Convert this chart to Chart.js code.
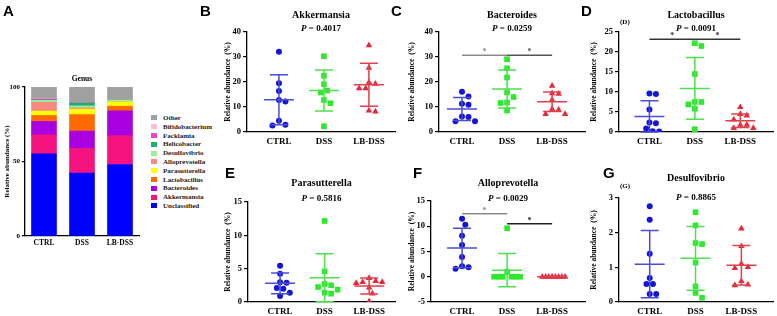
<!DOCTYPE html>
<html>
<head>
<meta charset="utf-8">
<script src="https://cdn.jsdelivr.net/npm/chart.js@4.4.0/dist/chart.umd.min.js"></script>
<style>
  body { margin: 0; background: #fff; }
  #fig { position: relative; width: 777px; height: 316px; overflow: hidden; background: #fff; }
  #fig canvas { position: absolute; }
  .tag { position: absolute; font: bold 15px 'Liberation Sans', Arial, sans-serif; line-height: 1; color: #000; }
  .note { position: absolute; font: bold 7px 'Liberation Serif', serif; line-height: 1; color: #000; }
  #legendA { position: absolute; left: 151px; top: 113.6px; }
  #legendA div { display: flex; align-items: center; height: 8.8px; font: bold 7px 'Liberation Serif', serif; color: #222; white-space: nowrap; }
  #legendA span { display: inline-block; width: 6px; height: 5px; margin-right: 6px; }
</style>
</head>
<body>
<div id="fig">
  <canvas id="chartA" width="150" height="316" style="left:0;top:0"></canvas>
  <canvas id="chartB" width="180" height="160" style="left:220px;top:0"></canvas>
  <canvas id="chartC" width="186" height="160" style="left:404px;top:0"></canvas>
  <canvas id="chartD" width="191" height="160" style="left:586px;top:0"></canvas>
  <canvas id="chartE" width="180" height="156" style="left:220px;top:160px"></canvas>
  <canvas id="chartF" width="186" height="156" style="left:404px;top:160px"></canvas>
  <canvas id="chartG" width="191" height="156" style="left:586px;top:160px"></canvas>
  <div id="legendA"></div>
  <div class="tag" style="left:3px;top:3px">A</div>
  <div class="tag" style="left:200px;top:3px">B</div>
  <div class="tag" style="left:391px;top:3px">C</div>
  <div class="tag" style="left:581px;top:3px">D</div>
  <div class="tag" style="left:225px;top:165px">E</div>
  <div class="tag" style="left:413px;top:165px">F</div>
  <div class="tag" style="left:603px;top:165px">G</div>
  <div class="note" style="left:620px;top:19px">(D)</div>
  <div class="note" style="left:620px;top:183px">(G)</div>
</div>
<script>
const serif = "'Liberation Serif', 'Times New Roman', serif";

const groups = ['CTRL', 'DSS', 'LB-DSS'];

// A: genus composition (%), stacked from the bottom
const genera = ['Unclassified', 'Akkermansia', 'Bacteroides', 'Lactobacillus', 'Parasutterella',
  'Alloprevotella', 'Desulfovibrio', 'Helicobacter', 'Facklamia', 'Bifidobacterium', 'Other'];
const genusColors = ['#0000ff', '#f5147f', '#a900e2', '#ff6a00', '#ffff00',
  '#f58a80', '#9cf09c', '#1fae6e', '#f542c8', '#ffbddc', '#a0a0a0'];
const ctrlGenus = [55.2, 12.8, 8.9, 4.0, 2.9, 6.0, 1.2, 0.5, 0.6, 0.4, 7.5];
const dssGenus = [42.2, 16.6, 11.6, 11.1, 3.6, 0.9, 1.3, 2.0, 0.1, 0.1, 10.5];
const lbGenus = [48.0, 19.3, 16.7, 3.1, 2.9, 0.2, 1.1, 0.1, 0.1, 0.1, 8.4];

// B: Akkermansia
const akkCtrl = [32.1, 19.5, 16.4, 12.8, 12.2, 4.5, 2.6, 2.9];
const akkDss = [30.3, 22.5, 19.1, 16.6, 15.8, 12.8, 11.5, 2.3];
const akkLb = [34.7, 25.7, 19.9, 19.3, 17.5, 17.5, 8.2, 8.6];
const akkMean = [12.9, 16.6, 18.9];
const akkSd = [10.0, 8.2, 8.6];

// C: Bacteroides
const bacCtrl = [16.1, 14.2, 11.3, 10.9, 6.2, 6.0, 4.3, 4.3];
const bacDss = [29.1, 25.5, 21.8, 15.8, 14.0, 11.8, 11.6, 8.6];
const bacLb = [18.5, 15.5, 15.3, 12.9, 9.2, 8.9, 7.2, 7.2];
const bacMean = [9.2, 17.2, 12.1];
const bacSd = [4.6, 7.6, 3.9];
const bacSig = [[0, 1, 30.7], [1, 2, 30.7]];

// D: Lactobacillus
const lacCtrl = [9.6, 9.5, 5.6, 2.4, 2.2, 0.9, 0.2, 0.1];
const lacDss = [22.2, 21.5, 14.5, 7.5, 7.5, 6.9, 5.8, 0.7];
const lacLb = [6.2, 4.5, 4.1, 3.1, 1.8, 1.8, 1.0, 1.0];
const lacMean = [3.9, 10.9, 2.8];
const lacSd = [3.9, 7.7, 1.7];
const lacSig = [[0, 1, 23.2], [1, 2, 23.2]];

// E: Parasutterella
const parCtrl = [5.45, 4.25, 2.95, 2.9, 2.1, 2.0, 1.4, 0.9];
const parDss = [12.15, 4.6, 2.7, 2.5, 2.25, 1.85, 1.4, 1.25];
const parLb = [3.6, 3.15, 3.0, 3.0, 2.85, 2.15, 1.25, 0.1];
const parMean = [2.8, 3.65, 2.4];
const parSd = [1.55, 3.6, 1.2];

// F: Alloprevotella
const allCtrl = [11.5, 10.3, 8.1, 6.3, 3.9, 2.1, 1.9, 1.6];
const allDss = [9.6, 1.0, 0, 0, 0, 0, 0, 0];
const allLb = [0, 0, 0, 0, 0, 0, 0, 0];
const allMean = [5.7, 1.3, 0];
const allSd = [3.9, 3.3, 0];
const allSig = [[0, 1, 12.5], [1, 2, 10.5]];

// G: Desulfovibrio
const desCtrl = [2.76, 2.37, 1.39, 0.69, 0.52, 0.52, 0.23, 0.23];
const desDss = [2.59, 2.21, 1.70, 1.67, 1.14, 0.45, 0.26, 0.12];
const desLb = [2.12, 1.61, 1.10, 1.01, 0.98, 0.60, 0.50, 0.48];
const desMean = [1.09, 1.26, 1.06];
const desSd = [0.97, 0.92, 0.57];

const pointColors = ['#1515d5', '#2de82d', '#e8283a'];
const barColors = ['#4b4bdc', '#4ee04e', '#e0404a'];
const pointStyles = ['circle', 'rect', 'triangle'];
const pointSizes = [3, 4, 3.8];

// spreads overlapping points sideways, then draws mean/SD bars, brackets and P
const scatterExtras = {
  id: 'scatterExtras',
  afterDatasetsUpdate(chart) {
    const gap = 6.5, maxOff = 13;
    chart.data.datasets.forEach((ds, i) => {
      const pts = chart.getDatasetMeta(i).data;
      const order = pts.map((p, k) => k).sort((a, b) => pts[a].y - pts[b].y);
      const placed = [];
      const offs = [];
      order.forEach(k => {
        const p = pts[k];
        let off = 0;
        for (let step = 0; step < 80; step++) {
          const cand = step === 0 ? 0 : (step % 2 ? 1 : -1) * Math.ceil(step / 2) * gap / 2;
          if (placed.every(q => Math.hypot(q.x - cand, q.y - p.y) >= gap - 0.01)) { off = cand; break; }
        }
        placed.push({ x: off, y: p.y });
        offs[k] = off;
      });
      const widest = Math.max(...offs.map(Math.abs));
      const squeeze = widest > maxOff ? maxOff / widest : 1;
      pts.forEach((p, k) => { p.x += offs[k] * squeeze; });
    });
  },
  afterDatasetsDraw(chart, args, opts) {
    const { ctx, chartArea } = chart;
    const x = chart.scales.x, y = chart.scales.y;
    ctx.save();
    ctx.lineWidth = 1.5;
    opts.mean.forEach((m, i) => {
      const cx = x.getPixelForValue(i);
      const top = y.getPixelForValue(m + opts.sd[i]);
      const bot = y.getPixelForValue(m - opts.sd[i]);
      const my = y.getPixelForValue(m);
      ctx.strokeStyle = barColors[i];
      ctx.beginPath();
      ctx.moveTo(cx, top); ctx.lineTo(cx, bot);
      ctx.moveTo(cx - 9, top); ctx.lineTo(cx + 9, top);
      ctx.moveTo(cx - 9, bot); ctx.lineTo(cx + 9, bot);
      ctx.moveTo(cx - 15, my); ctx.lineTo(cx + 15, my);
      ctx.stroke();
    });
    (opts.sig || []).forEach((s, k) => {
      const x1 = x.getPixelForValue(s[0]), x2 = x.getPixelForValue(s[1]);
      const sy = y.getPixelForValue(s[2]);
      ctx.strokeStyle = opts.sigColors[k];
      ctx.fillStyle = opts.sigColors[k];
      ctx.beginPath();
      ctx.moveTo(x1, sy); ctx.lineTo(x2, sy);
      ctx.stroke();
      ctx.font = 'bold 8px ' + serif;
      ctx.textAlign = 'center';
      ctx.textBaseline = 'middle';
      ctx.fillText('*', (x1 + x2) / 2, sy - 3);
    });
    // P value, italic P
    ctx.fillStyle = '#000';
    ctx.textBaseline = 'middle';
    ctx.textAlign = 'left';
    const rest = ' = ' + opts.p;
    ctx.font = 'italic bold 9px ' + serif;
    const wP = ctx.measureText('P').width;
    ctx.font = 'bold 9px ' + serif;
    const wR = ctx.measureText(rest).width;
    const cxp = (chartArea.left + chartArea.right) / 2 - (wP + wR) / 2;
    ctx.font = 'italic bold 9px ' + serif;
    ctx.fillText('P', cxp, opts.pY);
    ctx.font = 'bold 9px ' + serif;
    ctx.fillText(rest, cxp + wP, opts.pY);
    ctx.restore();
  }
};

const panels = [
  { id: 'chartB', title: 'Akkermansia', p: '0.4017', series: [akkCtrl, akkDss, akkLb], mean: akkMean, sd: akkSd,
    yr: [0, 40, 10], xr: [-0.71, 2.58], yw: 27, xh: 20, pad: { left: 0, right: 5, top: 0, bottom: 8 }, tp: [9, 11], pY: 29 },
  { id: 'chartC', title: 'Bacteroides', p: '0.0259', series: [bacCtrl, bacDss, bacLb], mean: bacMean, sd: bacSd,
    sig: bacSig, sigColors: ['#8a8a8a', '#555555'],
    yr: [0, 40, 10], xr: [-0.51, 2.73], yw: 35, xh: 20, pad: { left: 0, right: 5, top: 0, bottom: 8 }, tp: [9, 11], pY: 29 },
  { id: 'chartD', title: 'Lactobacillus', p: '0.0091', series: [lacCtrl, lacDss, lacLb], mean: lacMean, sd: lacSd,
    sig: lacSig, sigColors: ['#333333', '#333333'],
    yr: [0, 25, 5], xr: [-0.67, 2.72], yw: 33, xh: 20, pad: { left: 0, right: 2, top: 0, bottom: 8 }, tp: [9, 11], pY: 29 },
  { id: 'chartE', title: 'Parasutterella', p: '0.5816', series: [parCtrl, parDss, parLb], mean: parMean, sd: parSd,
    yr: [0, 15, 5], xr: [-0.72, 2.58], yw: 28, xh: 14, pad: { left: 0, right: 5, top: 0, bottom: 0 }, tp: [17, 13], pY: 39 },
  { id: 'chartF', title: 'Alloprevotella', p: '0.0029', series: [allCtrl, allDss, allLb], mean: allMean, sd: allSd,
    sig: allSig, sigColors: ['#8a8a8a', '#222222'],
    yr: [-5, 15, 5], xr: [-0.69, 2.73], yw: 27, xh: 14, pad: { left: 0, right: 5, top: 0, bottom: 0 }, tp: [17, 12], pY: 39 },
  { id: 'chartG', title: 'Desulfovibrio', p: '0.8865', series: [desCtrl, desDss, desLb], mean: desMean, sd: desSd,
    yr: [0, 3, 1], xr: [-0.67, 2.69], yw: 33, xh: 14, pad: { left: 0, right: 2, top: 0, bottom: 0 }, tp: [12, 14], pY: 38 }
];

const axisBorder = { display: true, color: '#000', width: 1.3 };

panels.forEach(pn => {
  new Chart(document.getElementById(pn.id), {
    type: 'scatter',
    data: {
      datasets: pn.series.map((vals, i) => ({
        label: groups[i],
        data: vals.map(v => ({ x: i, y: v })),
        pointStyle: pointStyles[i],
        pointRadius: pointSizes[i],
        backgroundColor: pointColors[i],
        borderColor: pointColors[i],
        borderWidth: 0
      }))
    },
    options: {
      responsive: false,
      animation: false,
      events: [],
      layout: { padding: pn.pad },
      plugins: {
        legend: { display: false },
        tooltip: { enabled: false },
        title: {
          display: true, text: pn.title, fullSize: false, color: '#000',
          font: { family: serif, size: 10, weight: 'bold' },
          padding: { top: pn.tp[0], bottom: pn.tp[1] }
        },
        scatterExtras: { mean: pn.mean, sd: pn.sd, sig: pn.sig, sigColors: pn.sigColors, p: pn.p, pY: pn.pY }
      },
      scales: {
        x: {
          type: 'linear', min: pn.xr[0], max: pn.xr[1],
          afterBuildTicks: s => { s.ticks = groups.map((g, i) => ({ value: i })); },
          afterFit: s => { s.height = pn.xh; },
          ticks: { callback: v => groups[v], color: '#000', autoSkip: false, maxRotation: 0, padding: 4,
            font: { family: serif, size: 9, weight: 'bold' } },
          grid: { drawOnChartArea: false, drawTicks: false },
          border: axisBorder
        },
        y: {
          min: pn.yr[0], max: pn.yr[1],
          afterFit: s => { s.width = pn.yw; },
          ticks: { stepSize: pn.yr[2], color: '#000', padding: 2, font: { family: serif, size: 8.5, weight: 'bold' } },
          grid: { drawOnChartArea: false, tickLength: 4, color: '#000', lineWidth: 1.2 },
          border: axisBorder,
          title: { display: true, text: 'Relative abundance  (%)', color: '#000', padding: { top: 4, bottom: 0 },
            font: { family: serif, size: 7.5, weight: 'bold' } }
        }
      }
    },
    plugins: [scatterExtras]
  });
});

// A: stacked bars
new Chart(document.getElementById('chartA'), {
  type: 'bar',
  data: {
    labels: groups,
    datasets: genera.map((g, k) => ({
      label: g,
      data: [ctrlGenus[k], dssGenus[k], lbGenus[k]],
      backgroundColor: genusColors[k],
      barThickness: 25,
      borderWidth: 0
    }))
  },
  options: {
    responsive: false,
    animation: false,
    events: [],
    layout: { padding: { left: 0, right: 11, top: 0, bottom: 60 } },
    plugins: {
      legend: { display: false },
      tooltip: { enabled: false },
      title: { display: true, text: 'Genus', fullSize: false, color: '#000',
        font: { family: serif, size: 7.5, weight: 'bold' }, padding: { top: 75, bottom: 3 } }
    },
    scales: {
      x: {
        stacked: true,
        afterFit: s => { s.height = 20; },
        ticks: { color: '#000', padding: 3, font: { family: serif, size: 7.5, weight: 'bold' } },
        grid: { drawOnChartArea: false, drawTicks: false },
        border: axisBorder
      },
      y: {
        stacked: true, min: 0, max: 100,
        afterFit: s => { s.width = 25; },
        ticks: { stepSize: 50, color: '#000', padding: 2, font: { family: serif, size: 7, weight: 'bold' } },
        grid: { drawOnChartArea: false, tickLength: 3, color: '#000', lineWidth: 1.2 },
        border: axisBorder,
        title: { display: true, text: 'Relative abundance (%)', color: '#000', padding: { top: 3, bottom: 0 },
          font: { family: serif, size: 7, weight: 'bold' } }
      }
    }
  }
});

document.getElementById('legendA').innerHTML = genera
  .map((g, k) => `<div><span style="background:${genusColors[k]}"></span>${g}</div>`)
  .reverse().join('');
</script>
</body>
</html>
